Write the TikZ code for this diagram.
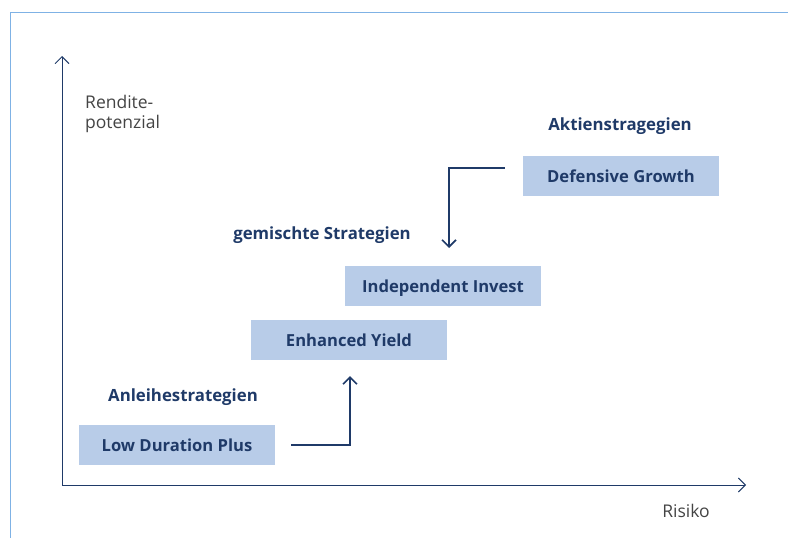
\documentclass[tikz,border=0pt]{standalone}
\usepackage{fontspec}
\setmainfont{Open Sans}
\usepackage{xcolor}
\usetikzlibrary{arrows.meta}
\usetikzlibrary{positioning}

\definecolor{navy}{HTML}{1F3A68}
\definecolor{boxblue}{HTML}{B8CCE8}
\definecolor{framelb}{HTML}{7FB2E5}
\definecolor{txtgray}{HTML}{444444}

\begin{document}
\begin{tikzpicture}[x=1pt,y=-1pt,
  strat/.style={fill=boxblue,minimum width=196pt,minimum height=40pt,
    inner sep=0pt,text height=12pt,text depth=0pt,text=navy,
    font=\fontsize{16.6}{18}\selectfont\bfseries},
  group/.style={text=navy,text height=12pt,text depth=0pt,
    font=\fontsize{16.8}{18}\selectfont\bfseries},
  axlabel/.style={text=txtgray,font=\fontsize{17.5}{19.5}\selectfont},
  axis/.style={navy,line width=0.9pt,-{Straight Barb[length=7pt,width=14pt]}},
  flow/.style={navy,line width=1.6pt,-{Straight Barb[length=7pt,width=14pt]}}]
\useasboundingbox (0,0) rectangle (788,538);
% frame
\draw[framelb,line width=0.8pt] (10.5,538) -- (10.5,12.5) -- (788,12.5);
% axes
\coordinate (origin) at (62,485);
\coordinate (ytop) at (62,56);
\coordinate (xend) at (746,485);
\draw[axis] (origin) -- (ytop);
\draw[axis] (origin) -- (xend);
\node[axlabel,align=left,anchor=north west,inner sep=0pt] (rendite) at (85,95.5) {Rendite-\\potenzial};
\node[axlabel] (risiko) at (686,511) {Risiko};
% strategies
\node[strat] (ldp) at (177,445) {Low Duration Plus};
\node[strat] (ey) at (349,340) {Enhanced Yield};
\node[strat] (ii) at (443,286) {Independent Invest};
\node[strat] (dg) at (621,176) {Defensive Growth};
\node[group] (anl) at (183,395) {Anleihestrategien};
\node[group] (gem) at (322,233) {gemischte Strategien};
\node[group] (akt) at (620,124) {Aktienstragegien};
% steps
\coordinate (up) at (350,376);
\coordinate (down) at (449,248);
\draw[flow] ([xshift=16pt]ldp.east) -| (up);
\draw[flow] ([xshift=-18pt,yshift=8pt]dg.west) -| (down);
\end{tikzpicture}
\end{document}
